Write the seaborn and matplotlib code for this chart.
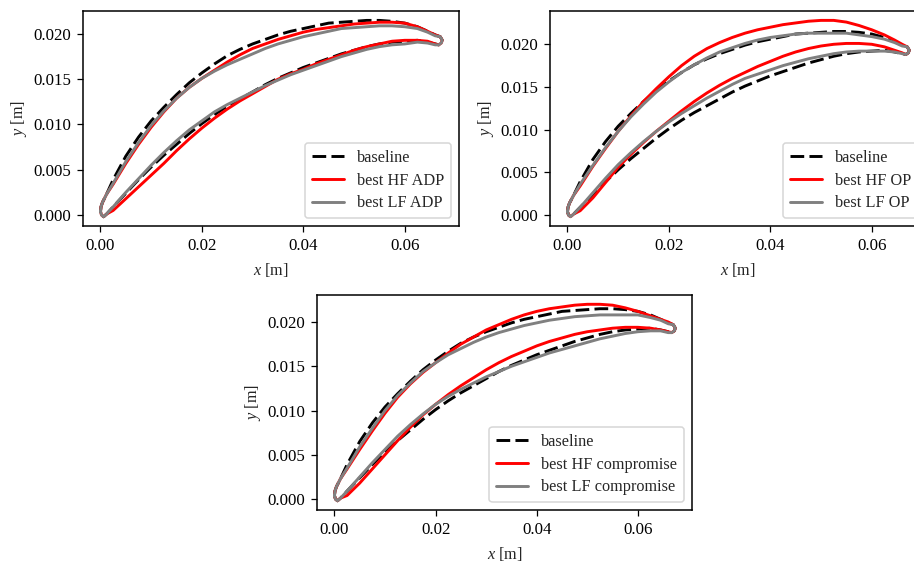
import matplotlib
matplotlib.use("Agg")
import matplotlib.pyplot as plt
import seaborn as sns

sns.set_style("ticks")
plt.rcParams['font.family'] = ['Liberation Serif', 'DejaVu Serif']
plt.rcParams['mathtext.fontset'] = 'custom'
plt.rcParams['mathtext.it'] = 'Liberation Serif:italic'
plt.rcParams['mathtext.rm'] = 'Liberation Serif'

# blade contour stations, shared by both surfaces between the two edges
x_mid = [0.0025, 0.0050, 0.0075, 0.0100, 0.0125, 0.0150, 0.0175, 0.0200, 0.0225, 0.0250, 0.0275, 0.0300, 0.0325, 0.0350,
         0.0375, 0.0400, 0.0425, 0.0450, 0.0475, 0.0500, 0.0525, 0.0550, 0.0575, 0.0600, 0.0625, 0.0645, 0.0660]
x_le_up = [0.0000, 0.0001, 0.0004, 0.0012]
y_le_up = [0.0004, 0.0009, 0.0014, 0.0023]
x_te = [0.0670, 0.0674, 0.0672, 0.0667]
y_te = [0.0197, 0.0193, 0.0190, 0.0188]
x_le_lo = [0.0012, 0.0006, 0.0002, 0.0000]
y_le_lo = [0.0001, -0.0002, 0.0000, 0.0004]

base_up = [.0039, .0065, .0086, .0104, .0119, .0133, .0146, .0157, .0167, .0176, .0183, .0189, .0194, .0199, .0203, .0206, .0209, .0212, .0213, .0214, .0215, .0215, .0214, .0212, .0208, .0203, .0199]
base_lo = [.0009, .0024, .0039, .0053, .0066, .0078, .0090, .0101, .0111, .0120, .0128, .0136, .0144, .0151, .0157, .0163, .0168, .0173, .0178, .0182, .0186, .0189, .0191, .0192, .0193, .0191, .0189]

adp_hf_up = [.0034, .0057, .0078, .0097, .0114, .0129, .0141, .0151, .0160, .0169, .0177, .0184, .0189, .0194, .0198, .0202, .0205, .0207, .0209, .0211, .0212, .0213, .0213, .0212, .0208, .0203, .0199]
adp_hf_lo = [.0005, .0018, .0031, .0044, .0057, .0071, .0084, .0096, .0107, .0117, .0126, .0134, .0142, .0150, .0156, .0161, .0167, .0172, .0177, .0182, .0186, .0189, .0192, .0193, .0193, .0192, .0189]
adp_lf_up = [.0035, .0059, .0080, .0099, .0115, .0129, .0141, .0151, .0159, .0166, .0172, .0178, .0184, .0189, .0193, .0197, .0200, .0203, .0206, .0207, .0208, .0209, .0209, .0208, .0206, .0202, .0198]
adp_lf_lo = [.0009, .0025, .0040, .0055, .0069, .0082, .0094, .0104, .0114, .0122, .0129, .0136, .0143, .0149, .0155, .0160, .0165, .0170, .0175, .0179, .0183, .0186, .0188, .0189, .0191, .0190, .0188]

op_hf_up = [.0034, .0057, .0078, .0098, .0116, .0133, .0148, .0162, .0175, .0186, .0195, .0202, .0208, .0213, .0217, .0220, .0223, .0225, .0227, .0228, .0228, .0226, .0222, .0217, .0211, .0205, .0200]
op_hf_lo = [.0005, .0020, .0038, .0056, .0071, .0085, .0098, .0110, .0122, .0133, .0143, .0152, .0160, .0167, .0174, .0180, .0186, .0191, .0195, .0198, .0200, .0201, .0201, .0200, .0197, .0193, .0190]
op_lf_up = [.0036, .0058, .0079, .0098, .0115, .0130, .0144, .0156, .0167, .0176, .0184, .0191, .0196, .0201, .0205, .0208, .0210, .0212, .0213, .0213, .0213, .0213, .0211, .0209, .0206, .0202, .0198]
op_lf_lo = [.0009, .0026, .0043, .0059, .0073, .0086, .0098, .0109, .0119, .0128, .0137, .0145, .0153, .0160, .0165, .0170, .0175, .0179, .0183, .0186, .0189, .0191, .0192, .0192, .0192, .0191, .0189]

cp_hf_up = [.0034, .0056, .0077, .0097, .0115, .0130, .0143, .0154, .0165, .0175, .0183, .0191, .0197, .0203, .0208, .0212, .0215, .0217, .0219, .0220, .0220, .0219, .0216, .0212, .0207, .0203, .0200]
cp_hf_lo = [.0004, .0018, .0034, .0050, .0066, .0081, .0095, .0107, .0118, .0128, .0137, .0146, .0154, .0161, .0167, .0173, .0178, .0182, .0186, .0189, .0191, .0193, .0194, .0194, .0193, .0191, .0189]
cp_lf_up = [.0035, .0059, .0080, .0100, .0117, .0131, .0144, .0154, .0163, .0170, .0177, .0183, .0188, .0192, .0196, .0199, .0202, .0204, .0206, .0207, .0208, .0208, .0208, .0208, .0205, .0202, .0198]
cp_lf_lo = [.0009, .0025, .0041, .0056, .0071, .0084, .0096, .0107, .0116, .0124, .0131, .0138, .0144, .0150, .0155, .0160, .0165, .0169, .0173, .0177, .0181, .0184, .0187, .0189, .0190, .0190, .0188]

x_ticks = [0.00, 0.02, 0.04, 0.06]
y_ticks = [0.000, 0.005, 0.010, 0.015, 0.020]
labels_adp = ["baseline", "best HF ADP", "best LF ADP"]
labels_op = ["baseline", "best HF OP", "best LF OP"]
labels_cp = ["baseline", "best HF compromise", "best LF compromise"]

x_contour = x_le_up + x_mid + x_te + x_mid[::-1] + x_le_lo


def contour(upper, lower):
    return y_le_up + upper + y_te + lower[::-1] + y_le_lo


W, H = 914, 565
fig = plt.figure(figsize=(W / 100, H / 100), dpi=100)

panels = [
    ((83, 459, 11, 226), (-0.00345, 0.0707), (-0.00122, 0.02254), contour(adp_hf_up, adp_hf_lo), contour(adp_lf_up, adp_lf_lo), labels_adp),
    ((550, 926, 11, 226), (-0.00345, 0.0707), (-0.00129, 0.0239), contour(op_hf_up, op_hf_lo), contour(op_lf_up, op_lf_lo), labels_op),
    ((317, 692, 295, 510), (-0.00345, 0.0707), (-0.00124, 0.02305), contour(cp_hf_up, cp_hf_lo), contour(cp_lf_up, cp_lf_lo), labels_cp),
]

for (l, r, t, b), xlim, ylim, hf, lf, labels in panels:
    ax = fig.add_axes([l / W, 1 - b / H, (r - l) / W, (b - t) / H])
    base = contour(base_up, base_lo)
    common = dict(sort=False, estimator=None, linewidth=2.1, ax=ax)
    sns.lineplot(x=x_contour, y=base, color="black", linestyle=(0, (4.7, 1.8)), label=labels[0], **common)
    sns.lineplot(x=x_contour, y=hf, color="red", label=labels[1], **common)
    sns.lineplot(x=x_contour, y=lf, color="gray", label=labels[2], **common)
    ax.set_xlim(*xlim)
    ax.set_ylim(*ylim)
    ax.set_xticks(x_ticks)
    ax.set_xticklabels([f"{v:.2f}" for v in x_ticks])
    ax.set_yticks(y_ticks)
    ax.set_yticklabels([f"{v:.3f}" for v in y_ticks])
    ax.tick_params(labelsize=12.2, width=0.9, length=4.5, color="black", labelcolor="black", pad=4)
    ax.set_xlabel("$x$ [m]", fontsize=11.7, labelpad=5)
    ax.set_ylabel("$y$ [m]", fontsize=11.7, labelpad=3)
    for s in ax.spines.values():
        s.set_visible(True)
        s.set_linewidth(1.1)
        s.set_color("black")
    leg = ax.legend(loc="lower right", fontsize=11.7, frameon=True, framealpha=0.8, edgecolor="0.8",
                    handlelength=2.0, labelspacing=0.42)
    leg.get_frame().set_linewidth(1.1)

fig.savefig("out.png", dpi=100)
